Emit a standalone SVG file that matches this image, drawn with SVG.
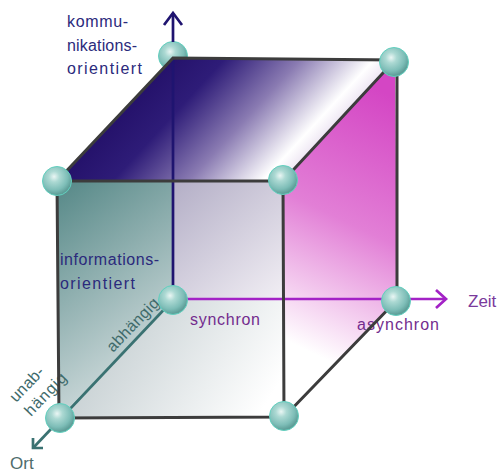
<svg xmlns="http://www.w3.org/2000/svg" width="497" height="472" viewBox="0 0 497 472">
<defs>
<linearGradient id="gTop" gradientUnits="userSpaceOnUse" x1="120" y1="110" x2="245" y2="225">
<stop offset="0" stop-color="#24116a"/><stop offset="0.25" stop-color="#2e1c78"/><stop offset="0.58" stop-color="#8a7bb2"/><stop offset="0.9" stop-color="#ffffff"/><stop offset="1" stop-color="#ece4f2"/>
</linearGradient>
<linearGradient id="gRight" gradientUnits="userSpaceOnUse" x1="400" y1="100" x2="285" y2="340">
<stop offset="0" stop-color="#d446c4"/><stop offset="0.5" stop-color="#e27fd6"/><stop offset="1" stop-color="#ffffff"/>
</linearGradient>
<linearGradient id="gLeft" gradientUnits="userSpaceOnUse" x1="57" y1="181" x2="175" y2="335">
<stop offset="0" stop-color="#548786"/><stop offset="1" stop-color="#c8d6d7"/>
</linearGradient>
<linearGradient id="gBack" gradientUnits="userSpaceOnUse" x1="173" y1="181" x2="285" y2="305">
<stop offset="0" stop-color="#b3aec6"/><stop offset="1" stop-color="#f4f1f6"/>
</linearGradient>
<linearGradient id="gBottom" gradientUnits="userSpaceOnUse" x1="90" y1="330" x2="250" y2="430">
<stop offset="0" stop-color="#c3cdd0"/><stop offset="1" stop-color="#ffffff"/>
</linearGradient>
<radialGradient id="gSphere" cx="0.4" cy="0.35" r="0.62">
<stop offset="0" stop-color="#eaf6f4"/><stop offset="0.3" stop-color="#acd9d3"/><stop offset="0.75" stop-color="#7dbdb7"/><stop offset="1" stop-color="#5f9f99"/>
</radialGradient>
</defs>
<style>
.edge{stroke:#3c3c3c;stroke-width:3;fill:none;stroke-linecap:round}
.sph{fill:url(#gSphere);stroke:#62d0bf;stroke-width:1}
.t{font-family:"Liberation Sans",Arial,sans-serif;font-size:16px}
.navy{fill:#2b2a7c}
.purp{fill:#732c8e}
.teal{fill:#3f6b6b}
</style>
<g id="faces">
<polygon points="173,58 395,59 397,300 173,300" fill="url(#gBack)"/>
<polygon points="173,300 397,300 284,417 59,418" fill="url(#gBottom)"/>
<polygon points="57,181 173,58 173,300 59,418" fill="url(#gLeft)"/>
<polygon points="283,181 395,59 397,300 284,417" fill="url(#gRight)"/>
</g>
<g id="node-btl"><circle class="sph" cx="173" cy="56" r="14.5"/></g>
<polygon id="top-face" points="57,181 283,181 395,59 173,58" fill="url(#gTop)"/>
<g id="connectors">
<path d="M173,13 V42 M173,58 V300" stroke="#1f1470" stroke-width="2.7" fill="none"/>
<path d="M164,25 L173,13 L182,25" stroke="#1f1470" stroke-width="2.7" fill="none"/>
<path d="M173,299 H445" stroke="#a322c6" stroke-width="2.7" fill="none"/>
<path d="M436,290 L446,299 L436,308" stroke="#a322c6" stroke-width="2.7" fill="none"/>
<path d="M173,300 L34,447" stroke="#3a7272" stroke-width="2.7" fill="none"/>
<path d="M33,438 L33,448 L43,448" stroke="#3a7272" stroke-width="2.7" fill="none"/>
</g>
<g id="labels">
<text class="t navy" x="67" y="27" textLength="61" lengthAdjust="spacing">kommu-</text>
<text class="t navy" x="67" y="51" textLength="70" lengthAdjust="spacing">nikations-</text>
<text class="t navy" x="67" y="74" textLength="75" lengthAdjust="spacing">orientiert</text>
<text class="t navy" x="60" y="265" textLength="99" lengthAdjust="spacing">informations-</text>
<text class="t navy" x="60" y="289" textLength="75" lengthAdjust="spacing">orientiert</text>
<text class="t purp" x="190" y="325" textLength="70" lengthAdjust="spacing">synchron</text>
<text class="t purp" x="357" y="330" textLength="82" lengthAdjust="spacing">asynchron</text>
<text class="t" x="468" y="307" style="font-size:17px;fill:#7a3a9c">Zeit</text>
<text class="t" x="10" y="469" style="font-size:17px;fill:#4f6c6c">Ort</text>
<text class="t teal" transform="translate(113,353) rotate(-46.2)" textLength="68" lengthAdjust="spacing">abhängig</text>
<text class="t teal" transform="translate(16,403) rotate(-46.2)" textLength="42" lengthAdjust="spacing">unab-</text>
<text class="t teal" transform="translate(31,417) rotate(-46.2)" textLength="53" lengthAdjust="spacing">hängig</text>
</g>
<g id="edges">
<path class="edge" d="M57,181 H283 L284,417 L59,418 Z"/>
<path class="edge" d="M57,181 L173,58 L395,60 L283,181"/>
<path class="edge" d="M397,62 L397,300 M396,301 L284,417"/>
</g>
<g id="node-ftl"><circle class="sph" cx="57" cy="181" r="14.5"/></g>
<g id="node-ftr"><circle class="sph" cx="283" cy="180" r="14.5"/></g>
<g id="node-btr"><circle class="sph" cx="394" cy="62" r="14.5"/></g>
<g id="node-origin"><circle class="sph" cx="173" cy="300" r="14.5"/></g>
<g id="node-bbr"><circle class="sph" cx="396" cy="301" r="14.5"/></g>
<g id="node-fbl"><circle class="sph" cx="60" cy="418" r="14.5"/></g>
<g id="node-fbr"><circle class="sph" cx="284" cy="416" r="14.5"/></g>
</svg>
